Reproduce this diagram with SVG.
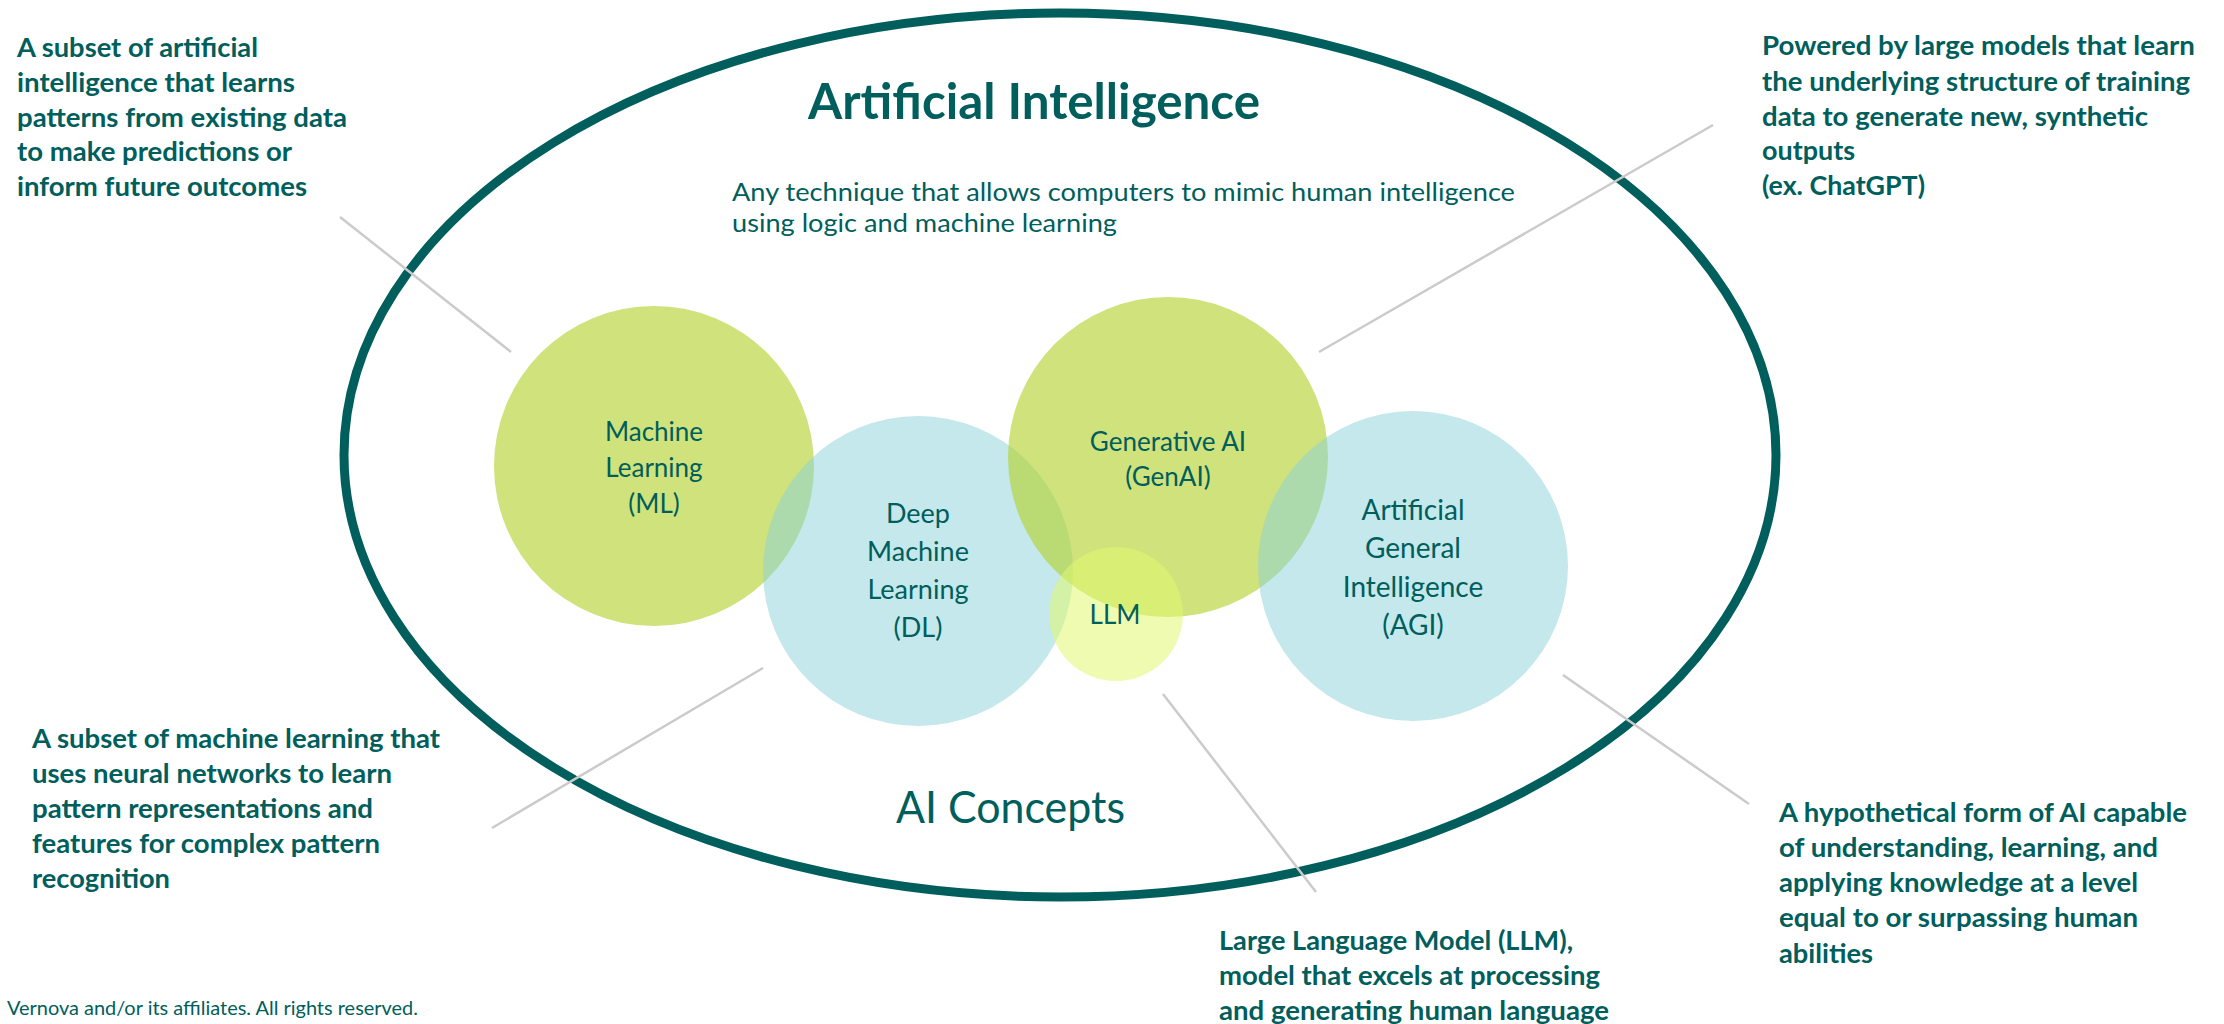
<svg xmlns="http://www.w3.org/2000/svg" width="2224" height="1024" viewBox="0 0 2224 1024">
  <style>
    text { font-family: Lato, "Open Sans", "Liberation Sans", sans-serif; fill: #005E5C; }
    .note { font-size: 27px; font-weight: 700; }
    .title { font-size: 50px; font-weight: 700; }
    .sub { font-size: 25px; }
    .big { font-size: 45px; }
    .lbl { font-size: 26px; text-anchor: middle; }
    .foot { font-size: 19px; }
    .green { fill: #B5D334; fill-opacity: 0.65; }
    .blue { fill: #8DD3D8; fill-opacity: 0.52; }
    .lime { fill: #E0F870; fill-opacity: 0.55; }
    .conn { stroke: #CBCBCB; stroke-width: 2.5; fill: none; }
  </style>

  <rect width="2224" height="1024" fill="#FFFFFF"/>

  <!-- outer AI boundary -->
  <g id="artificial-intelligence">
    <ellipse cx="1060" cy="455" rx="716" ry="442" fill="none" stroke="#005E5C" stroke-width="9"/>
    <text class="title" x="808" y="119" textLength="452" lengthAdjust="spacingAndGlyphs">Artificial Intelligence</text>
    <text class="sub" x="732" y="201" textLength="783" lengthAdjust="spacingAndGlyphs">Any technique that allows computers to mimic human intelligence</text>
    <text class="sub" x="732" y="232" textLength="385" lengthAdjust="spacingAndGlyphs">using logic and machine learning</text>
    <text class="big" x="896" y="823" textLength="229" lengthAdjust="spacingAndGlyphs">AI Concepts</text>
  </g>

  <!-- leader lines from concepts to their descriptions -->
  <g id="connectors">
    <line class="conn" x1="340" y1="217" x2="511" y2="352"/>
    <line class="conn" x1="1713" y1="125" x2="1319" y2="352"/>
    <line class="conn" x1="763" y1="668" x2="492" y2="828"/>
    <line class="conn" x1="1163" y1="694" x2="1316" y2="892"/>
    <line class="conn" x1="1563" y1="675" x2="1749" y2="804"/>
  </g>

  <!-- concept circles -->
  <g id="ml">
    <circle class="green" cx="654" cy="466" r="160"/>
    <text class="lbl" x="654" y="441">Machine</text>
    <text class="lbl" x="654" y="477">Learning</text>
    <text class="lbl" x="654" y="513">(ML)</text>
  </g>
  <g id="dl">
    <circle class="blue" cx="918" cy="571" r="155"/>
    <text class="lbl" x="918" y="523" style="font-size:27px">Deep</text>
    <text class="lbl" x="918" y="561" style="font-size:27px">Machine</text>
    <text class="lbl" x="918" y="599" style="font-size:27px">Learning</text>
    <text class="lbl" x="918" y="637" style="font-size:27px">(DL)</text>
  </g>
  <g id="genai">
    <circle class="green" cx="1168" cy="457" r="160"/>
    <text class="lbl" x="1168" y="451">Generative AI</text>
    <text class="lbl" x="1168" y="486">(GenAI)</text>
  </g>
  <g id="agi">
    <circle class="blue" cx="1413" cy="566" r="155"/>
    <text class="lbl" x="1413" y="520" style="font-size:28px">Artificial</text>
    <text class="lbl" x="1413" y="558" style="font-size:28px">General</text>
    <text class="lbl" x="1413" y="597" style="font-size:28px">Intelligence</text>
    <text class="lbl" x="1413" y="635" style="font-size:28px">(AGI)</text>
  </g>
  <g id="llm">
    <circle class="lime" cx="1116" cy="614" r="67"/>
    <text class="lbl" x="1115" y="624">LLM</text>
  </g>

  <!-- descriptions -->
  <g id="note-ml">
    <text class="note" x="17" y="57" textLength="241" lengthAdjust="spacingAndGlyphs">A subset of artificial</text>
    <text class="note" x="17" y="92" textLength="278" lengthAdjust="spacingAndGlyphs">intelligence that learns</text>
    <text class="note" x="17" y="127" textLength="330" lengthAdjust="spacingAndGlyphs">patterns from existing data</text>
    <text class="note" x="17" y="161" textLength="275" lengthAdjust="spacingAndGlyphs">to make predictions or</text>
    <text class="note" x="17" y="196" textLength="290" lengthAdjust="spacingAndGlyphs">inform future outcomes</text>
  </g>
  <g id="note-genai">
    <text class="note" x="1762" y="55" textLength="433" lengthAdjust="spacingAndGlyphs">Powered by large models that learn</text>
    <text class="note" x="1762" y="91" textLength="428" lengthAdjust="spacingAndGlyphs">the underlying structure of training</text>
    <text class="note" x="1762" y="126" textLength="386" lengthAdjust="spacingAndGlyphs">data to generate new, synthetic</text>
    <text class="note" x="1762" y="160" textLength="93" lengthAdjust="spacingAndGlyphs">outputs</text>
    <text class="note" x="1762" y="195" textLength="163" lengthAdjust="spacingAndGlyphs">(ex. ChatGPT)</text>
  </g>
  <g id="note-dl">
    <text class="note" x="32" y="748" textLength="408" lengthAdjust="spacingAndGlyphs">A subset of machine learning that</text>
    <text class="note" x="32" y="783" textLength="360" lengthAdjust="spacingAndGlyphs">uses neural networks to learn</text>
    <text class="note" x="32" y="818" textLength="341" lengthAdjust="spacingAndGlyphs">pattern representations and</text>
    <text class="note" x="32" y="853" textLength="348" lengthAdjust="spacingAndGlyphs">features for complex pattern</text>
    <text class="note" x="32" y="888" textLength="138" lengthAdjust="spacingAndGlyphs">recognition</text>
  </g>
  <g id="note-agi">
    <text class="note" x="1779" y="822" textLength="408" lengthAdjust="spacingAndGlyphs">A hypothetical form of AI capable</text>
    <text class="note" x="1779" y="857" textLength="379" lengthAdjust="spacingAndGlyphs">of understanding, learning, and</text>
    <text class="note" x="1779" y="892" textLength="359" lengthAdjust="spacingAndGlyphs">applying knowledge at a level</text>
    <text class="note" x="1779" y="927" textLength="359" lengthAdjust="spacingAndGlyphs">equal to or surpassing human</text>
    <text class="note" x="1779" y="963" textLength="94" lengthAdjust="spacingAndGlyphs">abilities</text>
  </g>
  <g id="note-llm">
    <text class="note" x="1219" y="950" textLength="354" lengthAdjust="spacingAndGlyphs">Large Language Model (LLM),</text>
    <text class="note" x="1219" y="985" textLength="381" lengthAdjust="spacingAndGlyphs">model that excels at processing</text>
    <text class="note" x="1219" y="1020" textLength="390" lengthAdjust="spacingAndGlyphs">and generating human language</text>
  </g>

  <!-- footer -->
  <g id="footer">
    <text class="foot" x="7" y="1015" textLength="411" lengthAdjust="spacingAndGlyphs">Vernova and/or its affiliates. All rights reserved.</text>
  </g>
</svg>
